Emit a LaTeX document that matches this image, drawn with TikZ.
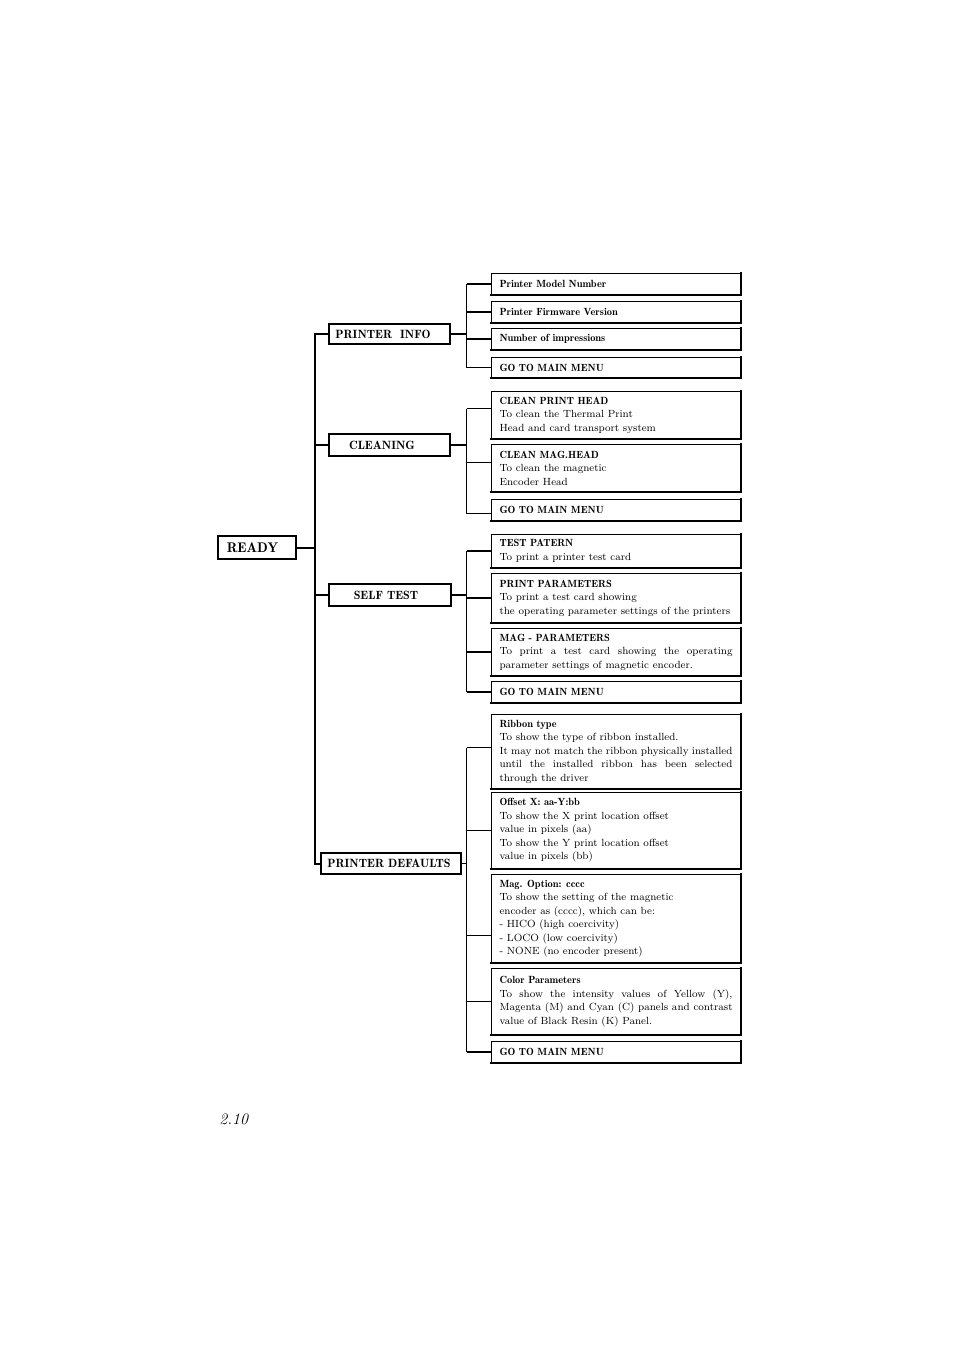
\documentclass[tikz,border=0pt]{standalone}
\usepackage{fontspec}
\usepackage{tikz}
\newfontfamily\headfont{lmromandemi10-regular.otf}
\newlength\itemtw
\setlength\itemtw{174.75pt}
\newcommand\head[1]{{\headfont #1}}
\newcommand\jline[1]{\makebox[\itemtw][s]{#1}}

\begin{document}
\begin{tikzpicture}[x=0.75pt, y=-0.75pt,
  heavyedge/.style={line width=1.4pt, line cap=rect},
  shadowbox/.style={draw, line width=0.8pt,
    append after command={(\tikzlastnode.north east) edge[heavyedge] (\tikzlastnode.south east)
      (\tikzlastnode.south east) edge[heavyedge] (\tikzlastnode.south west)}},
  menubox/.style={shadowbox, inner sep=0pt, minimum height=15pt,
    font=\headfont\fontsize{9}{11}\selectfont},
  itembox/.style={shadowbox, anchor=north west, inner xsep=6pt,
    inner ysep=2pt, text width=\itemtw, align=flush left,
    font=\fontsize{7.8}{10.1}\selectfont},
  link/.style={line width=1.1pt},
  trunk/.style={line width=1.5pt}]
  \useasboundingbox (0,0) rectangle (954,1351);

  \node[menubox, minimum width=58.5pt, minimum height=17.25pt,
    font=\headfont\fontsize{10.5}{12}\selectfont] (ready) at (257,547.5) {READY\kern6.75pt};
  \node[menubox, minimum width=90.75pt] (info) at (389.5,334) {PRINTER\ \ INFO\kern9.75pt};
  \node[menubox, minimum width=90.75pt, minimum height=16.5pt] (clean) at (389.5,445) {CLEANING\kern11.25pt};
  \node[menubox, minimum width=91.5pt, minimum height=16.5pt] (self) at (390,595) {SELF TEST\kern6pt};
  \node[menubox, minimum width=105pt, minimum height=15.75pt] (defaults) at (391,863.5) {PRINTER DEFAULTS\kern3pt};

  \coordinate (trunkpt) at (315,547.5);
  \draw[trunk] (info.west) -| (trunkpt |- defaults.west) -- (defaults.west);
  \draw[trunk] (ready.east) -- (trunkpt);
  \draw[trunk] (trunkpt |- clean.west) -- (clean.west);
  \draw[trunk] (trunkpt |- self.west) -- (self.west);

  % printer info
  \node[itembox, minimum height=15.75pt] (pi1) at (491,273) {\head{Printer Model Number}};
  \node[itembox, minimum height=15.75pt] (pi2) at (491,301) {\head{Printer Firmware Version}};
  \node[itembox, minimum height=15.75pt] (pi3) at (491,328) {\head{Number of impressions}};
  \node[itembox, minimum height=15pt] (pi4) at (491,357) {\head{GO TO MAIN MENU}};
  \coordinate (busA) at (466.5,334);
  \draw[link] (info.east) -- (busA);
  \draw[link] (busA |- pi1.west) -- (busA |- pi4.west);
  \foreach \n in {pi1,pi2,pi3,pi4}
    \draw[link] (busA |- \n.west) -- (\n.west);

  % cleaning
  \node[itembox, minimum height=35.25pt] (cl1) at (491,391)
    {\head{CLEAN PRINT HEAD}\\To clean the Thermal Print\\Head and card transport system};
  \node[itembox, minimum height=35.25pt] (cl2) at (491,444)
    {\head{CLEAN MAG.HEAD}\\To clean the magnetic\\Encoder Head};
  \node[itembox, minimum height=15.75pt] (cl3) at (491,499) {\head{GO TO MAIN MENU}};
  \coordinate (busB) at (466.5,445);
  \draw[link] (clean.east) -- (busB);
  \draw[link] ([yshift=4.9pt]busB |- cl1.west) -- ([yshift=-2.6pt]busB |- cl3.west);
  \draw[link] ([yshift=4.9pt]busB |- cl1.west) -- ([yshift=4.9pt]cl1.west);
  \draw[link] ([yshift=4.1pt]busB |- cl2.west) -- ([yshift=4.1pt]cl2.west);
  \draw[link] ([yshift=-2.6pt]busB |- cl3.west) -- ([yshift=-2.6pt]cl3.west);

  % self test
  \node[itembox, minimum height=24.75pt] (st1) at (491,534)
    {\head{TEST PATERN}\\To print a printer test card};
  \node[itembox, minimum height=36.75pt] (st2) at (491,573)
    {\head{PRINT PARAMETERS}\\To print a test card showing\\the operating parameter settings of the printers};
  \node[itembox, minimum height=35.25pt] (st3) at (491,628)
    {\head{MAG - PARAMETERS}\\\jline{To print a test card showing the operating}\\parameter settings of magnetic encoder.};
  \node[itembox, minimum height=15.75pt] (st4) at (491,681) {\head{GO TO MAIN MENU}};
  \coordinate (busC) at (466.5,595);
  \draw[link] (self.east) -- (busC);
  \draw[link] (busC |- st1.west) -- (busC |- st4.west);
  \foreach \n in {st1,st2,st3,st4}
    \draw[link] (busC |- \n.west) -- (\n.west);

  % printer defaults
  \node[itembox, minimum height=55.5pt] (pd1) at (491,714)
    {\head{Ribbon type}\\To show the type of ribbon installed.\\
     \jline{It may not match the ribbon physically installed}\\
     \jline{until the installed ribbon has been selected}\\through the driver};
  \node[itembox, minimum height=57pt] (pd2) at (491,792)
    {\head{Offset X: aa-Y:bb}\\To show the X print location offset\\value in pixels (aa)\\
     To show the Y print location offset\\value in pixels (bb)};
  \node[itembox, minimum height=66pt] (pd3) at (491,874)
    {\head{Mag. Option: cccc}\\To show the setting of the magnetic\\encoder as (cccc), which can be:\\
     - HICO (high coercivity)\\- LOCO (low coercivity)\\- NONE (no encoder present)};
  \node[itembox, minimum height=49.5pt] (pd4) at (491,968)
    {\head{Color Parameters}\\\jline{To show the intensity values of Yellow (Y),}\\
     \jline{Magenta (M) and Cyan (C) panels and contrast}\\value of Black Resin (K) Panel.};
  \node[itembox, minimum height=15.75pt] (pd5) at (491,1041) {\head{GO TO MAIN MENU}};
  \coordinate (busD) at (466.5,863.5);
  \draw[link] (defaults.east) -- (busD);
  \draw[link] ([yshift=3pt]busD |- pd1.west) -- (busD |- pd5.west);
  \draw[link] ([yshift=3pt]busD |- pd1.west) -- ([yshift=3pt]pd1.west);
  \draw[link] (busD |- pd2.west) -- (pd2.west);
  \draw[link] ([yshift=-12.75pt]busD |- pd3.west) -- ([yshift=-12.75pt]pd3.west);
  \draw[link] (busD |- pd4.west) -- (pd4.west);
  \draw[link] (busD |- pd5.west) -- (pd5.west);

  \node[anchor=west, inner sep=0pt, font=\itshape\fontsize{12}{14}\selectfont] (pagenum) at (219,1119) {2.10};
\end{tikzpicture}
\end{document}
